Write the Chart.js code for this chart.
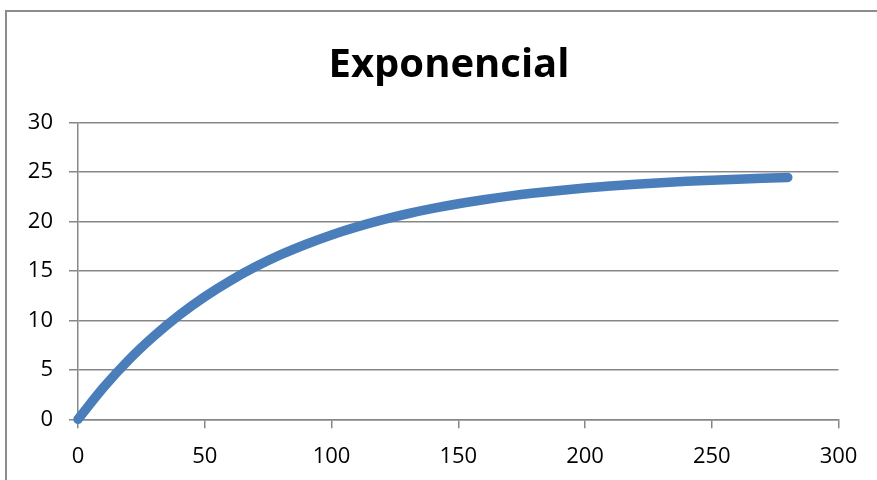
<!DOCTYPE html>
<html>
<head>
<meta charset="utf-8">
<style>
  html, body { margin: 0; padding: 0; background: #fff; }
  #wrap { position: relative; width: 877px; height: 480px; }
</style>
<script src="https://cdn.jsdelivr.net/npm/chart.js@4/dist/chart.umd.min.js"></script>
</head>
<body>
<div id="wrap"><canvas id="chart" width="877" height="480"></canvas></div>
<script>
// Series: elapsed time (x) and measured value (y)
const xValues = [0, 10, 20, 30, 40, 50, 60, 70, 80, 90, 100, 110, 120, 130, 140,
                 150, 160, 170, 180, 190, 200, 210, 220, 230, 240, 250, 260, 270, 280];
const yValues = [0, 3.20, 6.00, 8.42, 10.55, 12.40, 14.01, 15.42, 16.65, 17.71, 18.65, 19.46, 20.17, 20.79, 21.33,
                 21.80, 22.21, 22.57, 22.88, 23.15, 23.39, 23.59, 23.77, 23.93, 24.07, 24.19, 24.29, 24.38, 24.46];

const titleText = 'Exponencial';
const xTicks = { min: 0, max: 300, step: 50 };
const yTicks = { min: 0, max: 30, step: 5 };

const GRID = '#878787';
const FONT = '"Open Sans", "Liberation Sans", sans-serif';
const PAD_LEFT = 10;

// Outer frame of the chart object
const framePlugin = {
  id: 'frame',
  beforeDraw(chart) {
    const ctx = chart.ctx;
    ctx.save();
    ctx.fillStyle = '#ffffff';
    ctx.fillRect(0, 0, chart.width, chart.height);
    ctx.strokeStyle = '#8c8c8c';
    ctx.lineWidth = 2;
    ctx.strokeRect(6, 11, chart.width + 20, chart.height + 20);
    ctx.restore();
  }
};

// Chart heading, centred over the plot
const headingPlugin = {
  id: 'heading',
  afterDraw(chart) {
    const ctx = chart.ctx;
    ctx.save();
    ctx.fillStyle = '#000000';
    ctx.font = 'bold 40px ' + FONT;
    ctx.textAlign = 'center';
    ctx.textBaseline = 'alphabetic';
    ctx.fillText(titleText, 449, 77);
    ctx.restore();
  }
};

const points = xValues.map((x, i) => ({ x: x, y: yValues[i] }));

new Chart(document.getElementById('chart'), {
  type: 'line',
  data: {
    datasets: [{
      data: points,
      borderColor: '#4a7ebb',
      backgroundColor: '#4a7ebb',
      borderWidth: 9.5,
      borderCapStyle: 'round',
      borderJoinStyle: 'round',
      cubicInterpolationMode: 'monotone',
      pointRadius: 0,
      pointHoverRadius: 0,
      fill: false,
      clip: 8
    }]
  },
  options: {
    responsive: false,
    animation: false,
    events: [],
    layout: { padding: { left: PAD_LEFT, right: 38.5, top: 122.7, bottom: 0 } },
    plugins: {
      legend: { display: false },
      tooltip: { enabled: false },
      title: { display: false }
    },
    scales: {
      x: {
        type: 'linear',
        min: xTicks.min,
        max: xTicks.max,
        afterFit(scale) { scale.height = 60.7; },
        ticks: {
          stepSize: xTicks.step,
          color: '#000000',
          padding: 15,
          maxRotation: 0,
          font: { family: FONT, size: 22 }
        },
        grid: {
          drawOnChartArea: false,
          drawTicks: true,
          tickLength: 9,
          color: GRID,
          lineWidth: 1.5
        },
        border: { display: true, color: GRID, width: 1.5 }
      },
      y: {
        min: yTicks.min,
        max: yTicks.max,
        afterFit(scale) { scale.width = 78 - PAD_LEFT; },
        ticks: {
          stepSize: yTicks.step,
          color: '#000000',
          padding: 16,
          font: { family: FONT, size: 22 }
        },
        grid: {
          drawOnChartArea: true,
          drawTicks: true,
          tickLength: 9,
          color: GRID,
          lineWidth: 1.5
        },
        border: { display: true, color: GRID, width: 1.5 }
      }
    }
  },
  plugins: [framePlugin, headingPlugin]
});
</script>
</body>
</html>
